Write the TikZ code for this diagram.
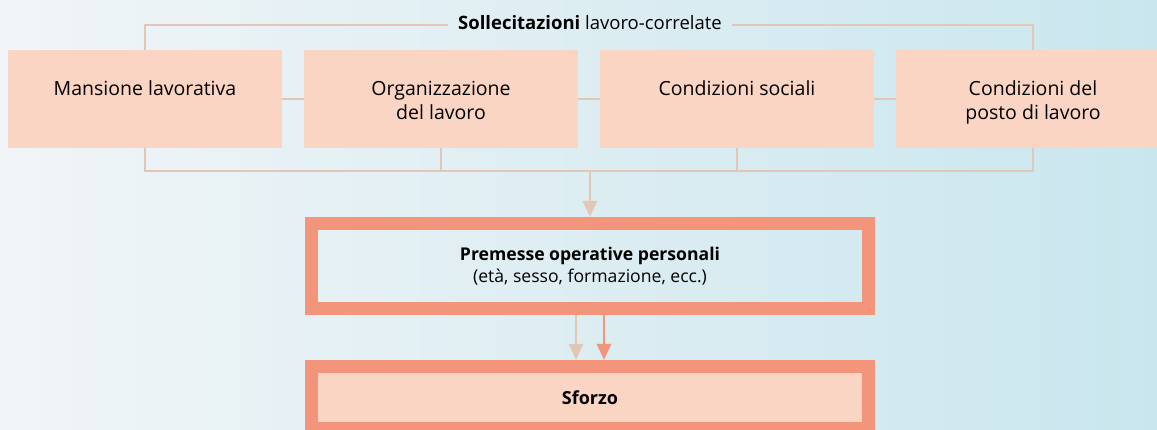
\documentclass[tikz,border=0pt]{standalone}
\usepackage{fontspec}
\setmainfont{Open Sans}
\usetikzlibrary{arrows.meta,positioning}

\definecolor{pesca}{HTML}{FAD5C3}
\definecolor{salmone}{HTML}{F3957A}
\definecolor{tratto}{HTML}{E2C7B7}
\definecolor{sfondoL}{HTML}{F1F5F7}
\definecolor{sfondoR}{HTML}{C9E6EE}

\newcommand{\intesta}[1]{\parbox[c][98pt][t]{260pt}{\centering\rule{0pt}{46pt}#1}}

\begin{document}
\begin{tikzpicture}[x=1pt,y=-1pt,
fattore/.style={
rectangle,
fill=pesca,
inner sep=0pt,
outer sep=0pt,
minimum width=274pt,
minimum height=98pt,
font=\fontsize{19.5}{24}\selectfont
},
premessa/.style={
rectangle,
draw=salmone,
line width=13pt,
outer sep=6.5pt,
minimum width=557pt,
align=center,
font=\fontsize{17.6}{21.5}\selectfont
},
linea/.style={draw=tratto, line width=2.2pt},
freccia/.style={linea, line width=2.6pt, -{Triangle[width=14pt,length=16pt]}}]
% sfondo
\useasboundingbox (0,0) rectangle (1157,430);
\clip (0,0) rectangle (1157,430);
\shade[left color=sfondoL, right color=sfondoR] (0,0) rectangle (1157,430);

% fattori lavoro-correlati
\node (mansione) [fattore, anchor=north west] at (8,50) {\intesta{Mansione lavorativa}};
\node (organizz) [fattore, right=22pt of mansione] {\intesta{Organizzazione\\del lavoro}};
\node (sociali) [fattore, right=22pt of organizz] {\intesta{Condizioni sociali}};
\node (posto) [fattore, right=22pt of sociali] {\intesta{Condizioni del\\posto di lavoro}};
\node (sollecit) [inner xsep=10pt, font=\fontsize{18.5}{20}\selectfont] at (590,23) {\textbf{Sollecitazioni} lavoro-correlate};

% premesse e sforzo
\node (premesse) [premessa, minimum height=85pt] at (590,266) {\textbf{Premesse operative personali}\\(età, sesso, formazione, ecc.)};
\node (sforzo) [premessa, fill=pesca, minimum height=62pt, below=45pt of premesse, font=\fontsize{18}{20}\selectfont] {\textbf{Sforzo}};
\coordinate (raccordo) at (590,171);

% connettori
\draw[linea] (sollecit.west |- 0,25) -| (mansione.north);
\draw[linea] (sollecit.east |- 0,25) -| (posto.north);
\draw[linea] (mansione) -- (organizz);
\draw[linea] (organizz) -- (sociali);
\draw[linea] (sociali) -- (posto);
\draw[linea] (mansione.south) |- (raccordo) -| (posto.south);
\draw[linea] (organizz.south) -- (organizz.south |- raccordo);
\draw[linea] (sociali.south) -- (sociali.south |- raccordo);
\draw[freccia] (raccordo) -- (premesse.north);
\draw[freccia] ([xshift=-14pt]premesse.south) -- ([xshift=-14pt]sforzo.north);
\draw[freccia, draw=salmone] ([xshift=14pt]premesse.south) -- ([xshift=14pt]sforzo.north);
\end{tikzpicture}
\end{document}
